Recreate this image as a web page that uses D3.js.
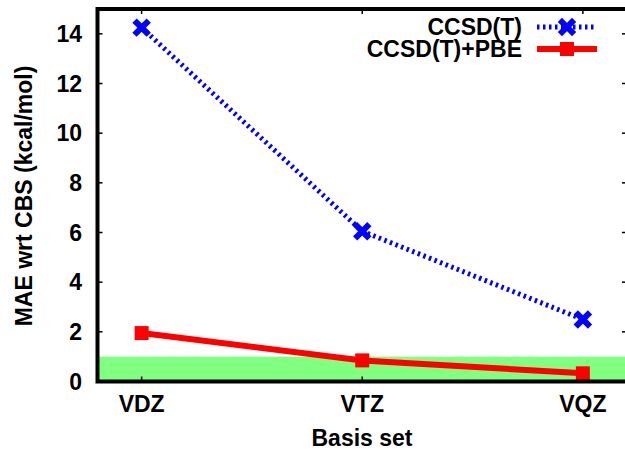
<!DOCTYPE html>
<html>
<head>
<meta charset="utf-8">
<script src="https://cdn.jsdelivr.net/npm/d3@7"></script>
<style>
  body { margin: 0; background: #fff; }
  text { font-family: "Liberation Sans", Arial, sans-serif; font-weight: bold; }
</style>
</head>
<body>
<script>
// data
var basis = ["VDZ", "VTZ", "VQZ"];
var ccsdt = [14.25, 6.05, 2.5];
var ccsdtPbe = [1.95, 0.85, 0.33];
var yTicks = [0, 2, 4, 6, 8, 10, 12, 14];
var band = [0, 1]; // chemical accuracy

var width = 625, height = 450;
var pLeft = 97.5, pRight = 627, pTop = 9, pBottom = 381.5;
var fs = 23;

var svg = d3.select("body").append("svg")
  .attr("width", width)
  .attr("height", height);

var x = d3.scaleLinear().domain([0.8, 3.2]).range([pLeft, pRight]);
var y = d3.scaleLinear().domain([0, 15]).range([pBottom, pTop]);

// green band
svg.append("rect")
  .attr("x", pLeft)
  .attr("y", y(band[1]))
  .attr("width", pRight - pLeft)
  .attr("height", y(band[0]) - y(band[1]))
  .attr("fill", "#80ff80");

// ticks (inward, mirrored)
var tk = svg.append("g").attr("stroke", "#000").attr("stroke-width", 1.5);
yTicks.forEach(function(v){
  tk.append("line").attr("x1", pLeft).attr("x2", pLeft + 5).attr("y1", y(v)).attr("y2", y(v));
  tk.append("line").attr("x1", pRight).attr("x2", pRight - 5).attr("y1", y(v)).attr("y2", y(v));
});
basis.forEach(function(b, i){
  tk.append("line").attr("x1", x(i+1)).attr("x2", x(i+1)).attr("y1", pBottom).attr("y2", pBottom - 5);
  tk.append("line").attr("x1", x(i+1)).attr("x2", x(i+1)).attr("y1", pTop).attr("y2", pTop + 5);
});

svg.selectAll(".ylab").data(yTicks).enter().append("text")
  .attr("x", 82)
  .attr("y", function(d){ return y(d); })
  .attr("dy", "0.36em")
  .attr("text-anchor", "end")
  .attr("font-size", fs)
  .text(function(d){ return d; });

svg.selectAll(".xlab").data(basis).enter().append("text")
  .attr("x", function(d, i){ return x(i+1); })
  .attr("y", 412)
  .attr("text-anchor", "middle")
  .attr("font-size", fs)
  .text(function(d){ return d; });

svg.append("text")
  .attr("x", 362).attr("y", 446)
  .attr("text-anchor", "middle")
  .attr("font-size", fs)
  .text("Basis set");

svg.append("text")
  .attr("transform", "translate(32,196) rotate(-90)")
  .attr("text-anchor", "middle")
  .attr("font-size", fs)
  .text("MAE wrt CBS (kcal/mol)");

// lines
var line = d3.line()
  .x(function(d, i){ return x(i+1); })
  .y(function(d){ return y(d); });

svg.append("path")
  .attr("d", line(ccsdt))
  .attr("fill", "none")
  .attr("stroke", "#0000ff")
  .attr("stroke-width", 5)
  .attr("stroke-dasharray", "2.5,3.5");

svg.append("path")
  .attr("d", line(ccsdtPbe))
  .attr("fill", "none")
  .attr("stroke", "#ff0000")
  .attr("stroke-width", 6);

var cross = function(g, cx, cy){
  g.append("path")
    .attr("d", "M" + (cx-5) + "," + (cy-5) + "L" + (cx+5) + "," + (cy+5) +
               "M" + (cx-5) + "," + (cy+5) + "L" + (cx+5) + "," + (cy-5))
    .attr("stroke", "#0000ff")
    .attr("stroke-width", 6)
    .attr("stroke-linecap", "square");
};
var square = function(g, cx, cy){
  g.append("rect")
    .attr("x", cx - 7).attr("y", cy - 7)
    .attr("width", 14).attr("height", 14)
    .attr("fill", "#ff0000");
};

ccsdt.forEach(function(v, i){ cross(svg, x(i+1), y(v)); });
ccsdtPbe.forEach(function(v, i){ square(svg, x(i+1), y(v)); });

// frame
svg.append("rect")
  .attr("x", pLeft).attr("y", pTop)
  .attr("width", pRight - pLeft).attr("height", pBottom - pTop)
  .attr("fill", "none")
  .attr("stroke", "#000")
  .attr("stroke-width", 4);

// legend
var leg = svg.append("g");
leg.append("text").attr("x", 522).attr("y", 27).attr("dy", "0.36em")
  .attr("text-anchor", "end").attr("font-size", fs).text("CCSD(T)");
leg.append("line").attr("x1", 537).attr("x2", 597).attr("y1", 27).attr("y2", 27)
  .attr("stroke", "#0000ff").attr("stroke-width", 5).attr("stroke-dasharray", "2.5,3.5");
cross(leg, 567, 27);
leg.append("text").attr("x", 522).attr("y", 49).attr("dy", "0.36em")
  .attr("text-anchor", "end").attr("font-size", fs).text("CCSD(T)+PBE");
leg.append("line").attr("x1", 537).attr("x2", 597).attr("y1", 49).attr("y2", 49)
  .attr("stroke", "#ff0000").attr("stroke-width", 6);
square(leg, 567, 49);
</script>
</body>
</html>
